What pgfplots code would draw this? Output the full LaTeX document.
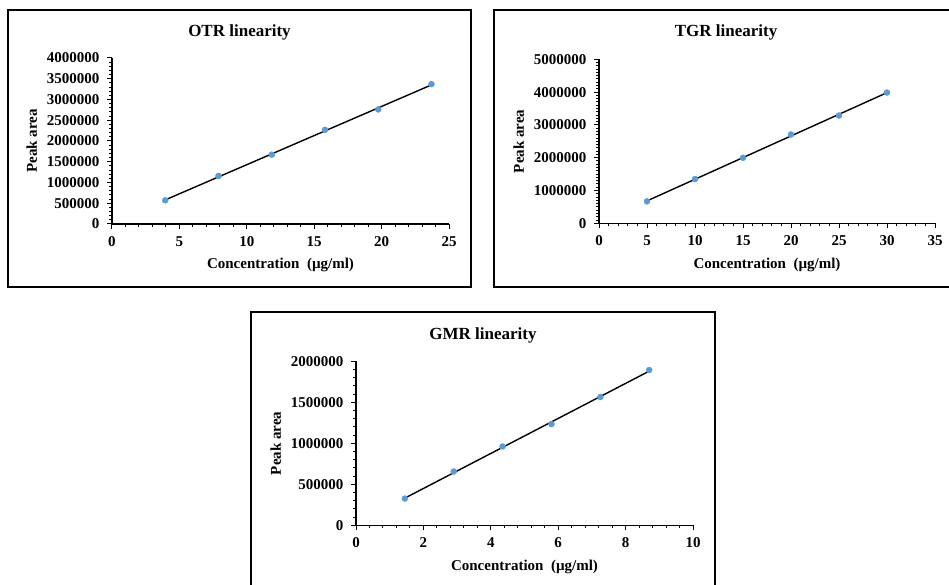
\documentclass[border=0pt]{standalone}
\usepackage{fontspec}
\setmainfont{Liberation Serif}
\usepackage{pgfplots}
\pgfplotsset{compat=1.18}
\definecolor{mk}{HTML}{5B9BD5}
\pgfplotsset{
 lin/.style={
  scale only axis, axis lines=left, axis line style={-, line width=1.3pt},
  tick align=outside, major tick length=5pt, minor tick length=3pt,
  every tick/.style={black, line width=1pt},
  xmin=0, ymin=0,
  scaled ticks=false,
  /pgf/number format/fixed,
  /pgf/number format/precision=0,
  /pgf/number format/1000 sep={},
  /pgf/number format/assume math mode=true,
  ticklabel style={font=\fontsize{15}{16}\selectfont\bfseries},
  xticklabel style={yshift=-4pt},
  yticklabel style={xshift=-4pt},
  label style={font=\fontsize{15}{16}\selectfont\bfseries},
  xlabel style={yshift=-5pt},
  ylabel style={yshift=3pt},
  xlabel={Concentration\ \ (µg/ml)},
  ylabel={Peak area},
  anchor=south west,
  minor x tick num=4,
  clip=false,
 },
 pts/.style={only marks, mark=*, mark size=3pt, color=mk},
 fit/.style={black, line width=1.4pt, no marks},
}
\begin{document}
\begin{tikzpicture}[x=1pt,y=1pt]
\useasboundingbox (0pt,0pt) rectangle (949pt,585pt);
% frames
\draw[line width=1.5pt] (8pt,575pt) rectangle (471pt,298pt);
\draw[line width=1.5pt] (949pt,575pt) -- (494pt,575pt) -- (494pt,298pt) -- (949pt,298pt);
\draw[line width=1.5pt] (251pt,-5pt) -- (251pt,273pt) -- (715pt,273pt) -- (715pt,-5pt);
% titles
\node[font=\fontsize{17}{18}\selectfont\bfseries] at (239.5pt,553pt) {OTR linearity};
\node[font=\fontsize{17}{18}\selectfont\bfseries] at (726pt,553pt) {TGR linearity};
\node[font=\fontsize{17}{18}\selectfont\bfseries] at (483pt,250pt) {GMR linearity};

\begin{axis}[lin, at={(112pt,361pt)}, width=337pt, height=166pt,
  xmax=25, ymax=4000000, xtick={0,5,...,25},
  ytick={0,500000,...,4000000}, minor y tick num=4]
\addplot[pts] coordinates {(3.95,571000)(7.9,1157000)(11.85,1670000)(15.8,2270000)(19.75,2760000)(23.7,3370000)};
\addplot[fit] coordinates {(3.95,580000)(23.7,3352000)};
\end{axis}

\begin{axis}[lin, at={(599pt,361.7pt)}, width=336pt, height=164pt,
  xmax=35, ymax=5000000, xtick={0,5,...,35},
  ytick={0,1000000,...,5000000}, minor y tick num=9]
\addplot[pts] coordinates {(5,669000)(10,1349000)(15,1998000)(20,2708000)(25,3286000)(30,3986000)};
\addplot[fit] coordinates {(5,683000)(30,3983000)};
\end{axis}

\begin{axis}[lin, at={(356pt,59.7pt)}, width=337pt, height=164pt,
  xmax=10, ymax=2000000, xtick={0,2,...,10},
  ytick={0,500000,...,2000000}, minor y tick num=4]
\addplot[pts] coordinates {(1.45,326000)(2.9,656000)(4.35,961000)(5.8,1234000)(7.25,1564000)(8.7,1894000)};
\addplot[fit] coordinates {(1.45,331500)(8.7,1880000)};
\end{axis}
\end{tikzpicture}
\end{document}
